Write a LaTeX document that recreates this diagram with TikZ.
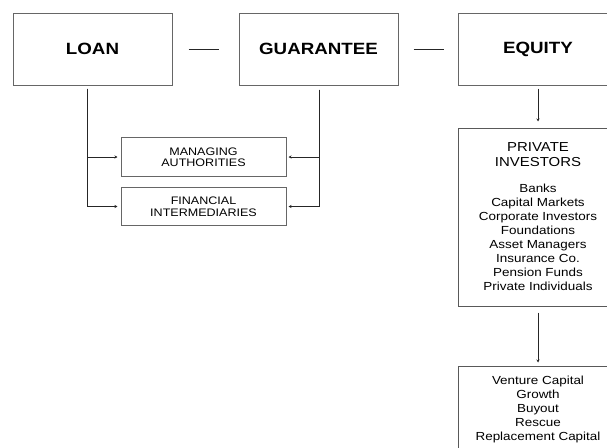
\documentclass[tikz,border=0pt]{standalone}
\usepackage{fontspec}
\setmainfont{Liberation Sans}[FakeStretch=1.15]
\usetikzlibrary{arrows.meta}
\newcommand{\hdr}[1]{{\fontsize{13}{14}\selectfont #1}}
\tikzset{
    bigbox/.style={draw=black!60, line width=1pt, minimum width=159pt, minimum height=72pt,
        font=\fontsize{16.3}{19}\selectfont\bfseries},
    midbox/.style={draw=black!60, line width=1pt, minimum width=165pt, minimum height=38.5pt,
        align=center, font=\fontsize{10.9}{11.5}\selectfont},
    listbox/.style={draw=black!65, line width=1pt, minimum width=160pt,
        align=center, font=\fontsize{11.7}{14}\selectfont},
    link/.style={draw=black!85, line width=0.8pt},
    feed/.style={link, -{Stealth[length=3pt,width=3pt]}}
}
\begin{document}
\begin{tikzpicture}[x=1pt, y=-1pt]
    \clip (0,0) rectangle (607,447);
    \node[bigbox] (loan) at (92.5,49) {LOAN};
    \node[bigbox] (guar) at (318.5,49) {GUARANTEE};
    \node[bigbox] (equity) at (538,49) {EQUITY};
    \draw[link, shorten <=16pt, shorten >=20pt] (loan) -- (guar);
    \draw[link, shorten <=15pt, shorten >=14pt] (guar) -- (equity);

    \node[midbox] (mng) at (203.5,157) {MANAGING\\AUTHORITIES};
    \node[midbox] (fin) at (203.5,206.5) {FINANCIAL\\INTERMEDIARIES};
    \coordinate (lt) at ([xshift=-5.5pt, yshift=-3pt]loan.south);
    \coordinate (rt) at ([xshift=0.5pt, yshift=-4pt]guar.south);
    \draw[feed, shorten >=3pt] (lt) |- (mng);
    \draw[feed, shorten >=3pt] (lt) |- (fin);
    \draw[feed, shorten >=2pt] (rt) |- (mng);
    \draw[feed, shorten >=2pt] (rt) |- (fin);

    \node[listbox, minimum height=178pt] (priv) at (538,217)
        {\hdr{PRIVATE}\\[1pt]\hdr{INVESTORS}\\[12pt]Banks\\Capital Markets\\Corporate Investors\\Foundations\\
         Asset Managers\\Insurance Co.\\Pension Funds\\Private Individuals};
    \node[listbox, minimum height=87pt] (venture) at (538,409.5)
        {Venture Capital\\Growth\\Buyout\\Rescue\\Replacement Capital};
    \draw[feed, shorten <=3pt, shorten >=6pt] (equity) -- (priv);
    \draw[feed, shorten <=6pt, shorten >=3pt] (priv) -- (venture);
\end{tikzpicture}
\end{document}
